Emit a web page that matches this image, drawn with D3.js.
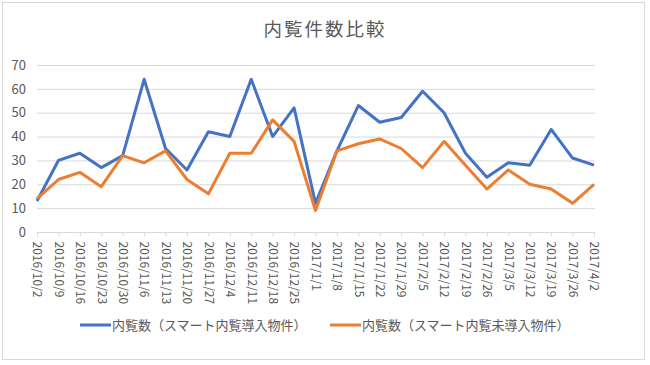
<!DOCTYPE html>
<html><head><meta charset="utf-8">
<script src="https://cdn.jsdelivr.net/npm/d3@7"></script>
<style>body{margin:0;background:#fff}svg{display:block}</style>
</head><body>
<script>
const categories = ["2016/10/2","2016/10/9","2016/10/16","2016/10/23","2016/10/30","2016/11/6","2016/11/13","2016/11/20","2016/11/27","2016/12/4","2016/12/11","2016/12/18","2016/12/25","2017/1/1","2017/1/8","2017/1/15","2017/1/22","2017/1/29","2017/2/5","2017/2/12","2017/2/19","2017/2/26","2017/3/5","2017/3/12","2017/3/19","2017/3/26","2017/4/2"];
const seriesSmart = [13,30,33,27,32,64,35,26,42,40,64,40,52,12,34,53,46,48,59,50,33,23,29,28,43,31,28];
const seriesNonSmart = [14,22,25,19,32,29,34,22,16,33,33,47,38,9,34,37,39,35,27,38,28,18,26,20,18,12,20];
const seriesNames = ["内覧数（スマート内覧導入物件）","内覧数（スマート内覧未導入物件）"];
const yTicks = [0,10,20,30,40,50,60,70];
const title = "内覧件数比較";

const W = 650, H = 365;
const font = "'Noto Sans CJK JP','Noto Sans',sans-serif";
const svg = d3.select("body").append("svg").attr("width", W).attr("height", H);
svg.append("rect").attr("x",2.5).attr("y",2.5).attr("width",642).attr("height",357)
  .attr("fill","#fff").attr("stroke","#d9d9d9");

svg.append("text").attr("x", 325).attr("y", 36).attr("text-anchor","middle")
  .attr("font-family", font).attr("font-size", 18.5).attr("letter-spacing", 2)
  .attr("fill","#595959").text(title);

const x = d3.scalePoint().domain(categories).range([37, 594]);
const y = d3.scaleLinear().domain([0,70]).range([232, 65]);

// gridlines
svg.append("g").selectAll("line").data(yTicks.filter(d=>d>0)).join("line")
  .attr("x1", 37).attr("x2", 595).attr("y1", d=>y(d)+0.5).attr("y2", d=>y(d)+0.5)
  .attr("stroke","#d9d9d9").attr("stroke-width",1);

// y axis labels
const yAxis = d3.axisLeft(y).tickValues(yTicks).tickSize(0).tickPadding(11);
const gy = svg.append("g").attr("transform","translate(37,0)").call(yAxis);
gy.select(".domain").remove();
gy.selectAll("text").attr("font-family", font).attr("font-size", 13).attr("fill","#595959");

// x axis
const xAxis = d3.axisBottom(x).tickSize(4).tickPadding(4);
const gx = svg.append("g").attr("transform", `translate(0,${y(0)+0.5})`).call(xAxis);
gx.select(".domain").attr("stroke","#d9d9d9").attr("d", "M37,0H595");
gx.selectAll(".tick line").attr("stroke","#d9d9d9");
gx.selectAll("text").attr("font-family", font).attr("font-size", 12).attr("fill","#595959")
  .attr("transform","rotate(90)").attr("text-anchor","start").attr("dy","0.35em")
  .attr("x", 9).attr("y", 0);

const line = d3.line().x((d,i)=>x(categories[i])).y(d=>y(d));
const colors = ["#4472C4","#ED7D31"];
[seriesSmart, seriesNonSmart].forEach((s,k)=>{
  svg.append("path").datum(s).attr("d", line).attr("fill","none")
    .attr("stroke", colors[k]).attr("stroke-width", 3).attr("stroke-linejoin","round");
});

// legend
const legX = [80, 330];
seriesNames.forEach((n,k)=>{
  const g = svg.append("g").attr("transform", `translate(${legX[k]},325)`);
  g.append("line").attr("x1",0).attr("x2",31).attr("y1",0).attr("y2",0)
    .attr("stroke", colors[k]).attr("stroke-width",3);
  g.append("text").attr("x",32).attr("y",0).attr("dy","0.35em")
    .attr("font-family", font).attr("font-size", 13).attr("fill","#595959").text(n);
});
</script>
</body></html>
